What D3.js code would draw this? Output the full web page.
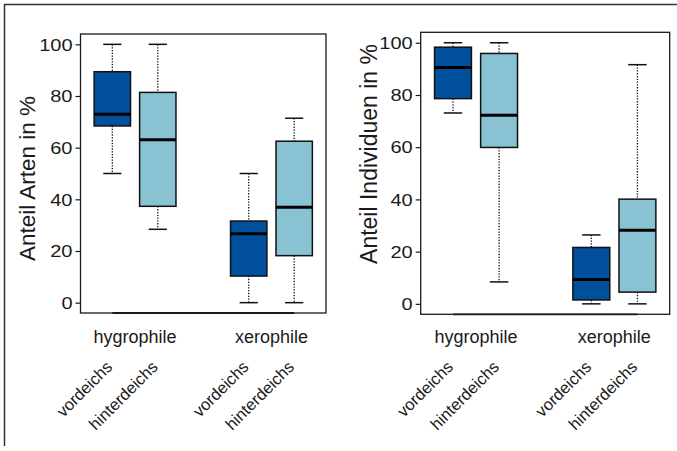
<!DOCTYPE html>
<html>
<head>
<meta charset="utf-8">
<script src="https://cdn.jsdelivr.net/npm/d3@7"></script>
<style>
  body { margin: 0; background: #fff; }
  text { font-family: "Liberation Sans", Arial, sans-serif; fill: #1a1a1a; }
</style>
</head>
<body>
<div id="chart"></div>
<script>
// categories
const groups = ['hygrophile', 'xerophile'];
const sites = ['vordeichs', 'hinterdeichs'];
const positions = [1, 2, 4, 5];
const yTicks = [0, 20, 40, 60, 80, 100];

// box stats per box: [lower whisker, Q1, median, Q3, upper whisker]
const artenStats = [
  [50, 68.4, 72.9, 89.4, 100],
  [28.4, 37.3, 63.1, 81.4, 100],
  [0, 10.3, 26.7, 31.6, 50],
  [0, 18.2, 36.9, 62.5, 71.4]
];
const individuenStats = [
  [73.1, 78.6, 90.5, 98.3, 100],
  [8.4, 59.9, 72.2, 95.9, 100],
  [0, 1.5, 9.3, 21.6, 26.4],
  [0, 4.5, 28.2, 40.1, 91.6]
];

const colors = ['#00509e', '#89c3d3'];

const svg = d3.select('#chart').append('svg')
  .attr('width', 677)
  .attr('height', 451);

// outer frame
svg.append('path')
  .attr('d', 'M4.5,446V4.5H690')
  .attr('fill', 'none')
  .attr('stroke', '#333')
  .attr('stroke-width', 1.5);

function drawPanel(cfg) {
  const x = d3.scaleLinear().domain([0.3, 5.7]).range([cfg.left, cfg.right]);
  const y = d3.scaleLinear().domain([-4, 104]).range([cfg.bottom, cfg.top]);
  const g = svg.append('g');
  const bw = 0.8, sw = 0.4;

  // y axis
  const yAxis = d3.axisLeft(y).tickValues(yTicks).tickSize(5).tickPadding(3).tickSizeOuter(0);
  const ax = g.append('g')
    .attr('transform', `translate(${cfg.left},0)`)
    .call(yAxis);
  ax.select('.domain').remove();
  ax.selectAll('.tick line').attr('stroke', '#1a1a1a').attr('stroke-width', 1.2);
  ax.selectAll('.tick text')
    .attr('font-size', 16)
    .attr('fill', '#1a1a1a')
    .attr('x', -8 / 1.25)
    .attr('dy', '0.36em')
    .attr('transform', 'scale(1.25,1)');

  // boxes
  const boxes = g.selectAll('.box')
    .data(cfg.stats)
    .join('g')
    .attr('class', 'box');

  boxes.append('line')
    .attr('x1', (d, i) => x(positions[i])).attr('x2', (d, i) => x(positions[i]))
    .attr('y1', d => y(d[4])).attr('y2', d => y(d[3]))
    .attr('stroke', '#111').attr('stroke-dasharray', '1.3,1.5').attr('stroke-width', 1.3);
  boxes.append('line')
    .attr('x1', (d, i) => x(positions[i])).attr('x2', (d, i) => x(positions[i]))
    .attr('y1', d => y(d[1])).attr('y2', d => y(d[0]))
    .attr('stroke', '#111').attr('stroke-dasharray', '1.3,1.5').attr('stroke-width', 1.3);
  [0, 4].forEach(k => {
    boxes.append('line')
      .attr('x1', (d, i) => x(positions[i] - sw / 2)).attr('x2', (d, i) => x(positions[i] + sw / 2))
      .attr('y1', d => y(d[k])).attr('y2', d => y(d[k]))
      .attr('stroke', '#111').attr('stroke-width', 1.5);
  });
  boxes.append('rect')
    .attr('x', (d, i) => x(positions[i] - bw / 2))
    .attr('width', x(bw) - x(0))
    .attr('y', d => y(d[3]))
    .attr('height', d => y(d[1]) - y(d[3]))
    .attr('fill', (d, i) => colors[i % 2])
    .attr('stroke', '#111').attr('stroke-width', 1.5);
  boxes.append('line')
    .attr('x1', (d, i) => x(positions[i] - bw / 2)).attr('x2', (d, i) => x(positions[i] + bw / 2))
    .attr('y1', d => y(d[2])).attr('y2', d => y(d[2]))
    .attr('stroke', '#000').attr('stroke-width', 3);

  // frame
  g.append('rect')
    .attr('x', cfg.left).attr('y', cfg.top)
    .attr('width', cfg.right - cfg.left).attr('height', cfg.bottom - cfg.top)
    .attr('fill', 'none').attr('stroke', '#1a1a1a').attr('stroke-width', 1.3);
  // x axis line (no ticks)
  g.append('line')
    .attr('x1', x(positions[0])).attr('x2', x(positions[3]))
    .attr('y1', cfg.bottom).attr('y2', cfg.bottom)
    .attr('stroke', '#1a1a1a').attr('stroke-width', 1.8);

  // group labels
  g.selectAll('.grp')
    .data(groups)
    .join('text')
    .attr('class', 'grp')
    .attr('x', (d, i) => (x(positions[i * 2]) + x(positions[i * 2 + 1])) / 2)
    .attr('y', 343)
    .attr('text-anchor', 'middle')
    .attr('font-size', 18)
    .text(d => d);

  // rotated site labels
  g.selectAll('.site')
    .data(positions)
    .join('text')
    .attr('class', 'site')
    .attr('transform', d => `translate(${x(d) + 1},368) rotate(-45)`)
    .attr('text-anchor', 'end')
    .attr('font-size', 16.5)
    .text((d, i) => sites[i % 2]);

  // y title
  g.append('text')
    .attr('transform', `translate(${cfg.titleX},${cfg.titleY}) rotate(-90)`)
    .attr('text-anchor', 'middle')
    .attr('font-size', cfg.titleSize)
    .attr('fill', '#333')
    .text(cfg.title);
}

drawPanel({ left: 80.5, right: 326, top: 34, bottom: 313, stats: artenStats,
  title: 'Anteil Arten in %', titleX: 35, titleY: 178.5, titleSize: 22.5 });
drawPanel({ left: 420.7, right: 669.7, top: 32.3, bottom: 314.3, stats: individuenStats,
  title: 'Anteil Individuen in %', titleX: 377, titleY: 154, titleSize: 23 });
</script>
</body>
</html>
